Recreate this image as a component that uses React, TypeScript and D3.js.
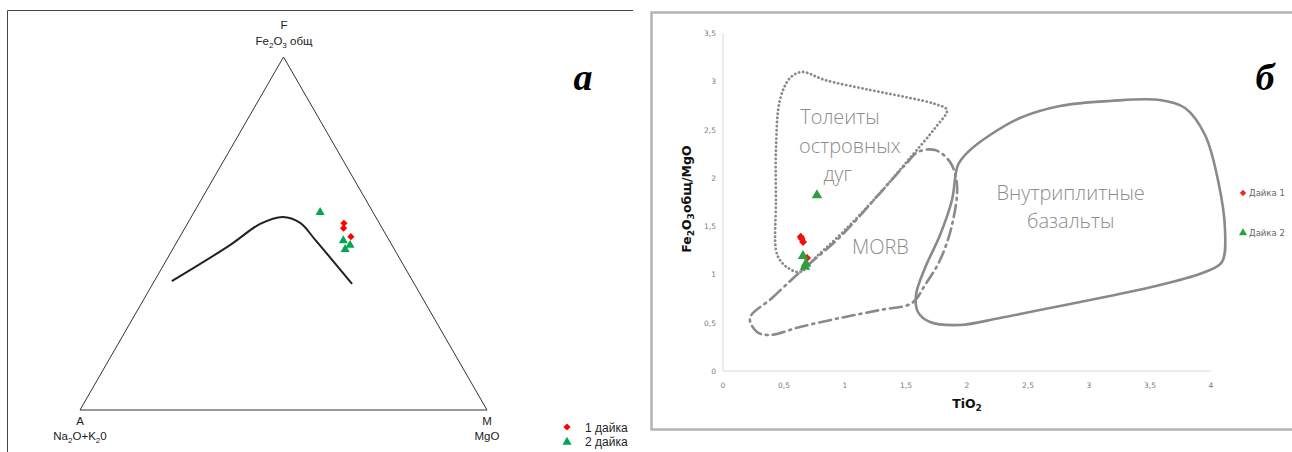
import React from "react";
import * as d3 from "d3";

// ---- panel a: ternary AFM (F top, A left, M right), values as fractions [F, M]
const dyke1AFM = [
  [0.529, 0.384],
  [0.515, 0.39],
  [0.491, 0.42],
];
const dyke2AFM = [
  [0.56, 0.31],
  [0.48, 0.407],
  [0.467, 0.43],
  [0.455, 0.424],
];
// boundary line tholeiitic / calc-alkaline
const boundaryAFM = [
  [0.365, 0.043],
  [0.467, 0.135],
  [0.527, 0.179],
  [0.547, 0.225],
  [0.53, 0.276],
  [0.482, 0.337],
  [0.357, 0.49],
];

// ---- panel б: TiO2 vs Fe2O3/MgO
const dyke1Ti = [
  [0.637, 1.39],
  [0.656, 1.335],
  [0.645, 1.37],
  [0.689, 1.17],
];
const dyke2Ti = [
  [0.77, 1.82],
  [0.656, 1.19],
  [0.672, 1.08],
  [0.68, 1.11],
];
const xTicks = [0, 0.5, 1, 1.5, 2, 2.5, 3, 3.5, 4];
const yTicks = [0, 0.5, 1, 1.5, 2, 2.5, 3, 3.5];

const iatField = [
  [0.434, 1.253], [0.434, 1.771], [0.434, 2.288], [0.467, 2.806], [0.549, 3.034],
  [0.648, 3.096], [0.836, 3.013], [1.205, 2.91], [1.533, 2.827], [1.738, 2.765],
  [1.836, 2.703], [1.738, 2.516], [1.533, 2.206], [1.287, 1.843], [1.0, 1.46],
  [0.754, 1.17], [0.631, 1.025], [0.533, 1.067], [0.467, 1.149],
];
const morbField = [
  [0.221, 0.549], [0.402, 0.756], [0.631, 1.025], [0.959, 1.388], [1.287, 1.843],
  [1.492, 2.133], [1.598, 2.268], [1.738, 2.288], [1.861, 2.164], [1.918, 1.926],
  [1.877, 1.512], [1.779, 1.149], [1.656, 0.891], [1.549, 0.704], [1.287, 0.632],
  [0.959, 0.549], [0.631, 0.456], [0.385, 0.373], [0.279, 0.404],
];
const wpbField = [
  [1.598, 0.611], [1.582, 0.787], [1.656, 1.067], [1.779, 1.408], [1.877, 1.771],
  [1.926, 2.133], [2.008, 2.268], [2.189, 2.444], [2.434, 2.62], [2.762, 2.744],
  [3.172, 2.796], [3.582, 2.806], [3.787, 2.723], [3.951, 2.444], [4.057, 1.978],
  [4.115, 1.46], [4.09, 1.129], [3.951, 1.025], [3.582, 0.891], [3.09, 0.756],
  [2.68, 0.652], [2.27, 0.549], [1.943, 0.476], [1.697, 0.507],
];

const RED = "#ff0000";
const GREEN = "#00a651";

export default function App() {
  // ternary geometry
  const tx = d3.scaleLinear().domain([0, 1]).range([80, 487]);
  const ty = d3.scaleLinear().domain([0, 1]).range([410, 57]);
  const proj = (f: number, m: number): [number, number] => [tx(m + f / 2), ty(f)];
  const triPath = d3.line()([proj(1, 0), proj(0, 0), proj(0, 1)]) + "Z";
  const boundaryPath = d3
    .line()
    .curve(d3.curveCatmullRom.alpha(0.5))(boundaryAFM.map((d) => proj(d[0], d[1])));

  // xy panel
  const x = d3.scaleLinear().domain([0, 4]).range([723, 1211]);
  const y = d3.scaleLinear().domain([0, 3.5]).range([371, 33]);
  const fieldLine = d3
    .line<number[]>()
    .x((d) => x(d[0]))
    .y((d) => y(d[1]))
    .curve(d3.curveCatmullRomClosed.alpha(0.5));
  const fmt = (v: number) => String(v).replace(".", ",");

  // square symbols turned 45° give an even diamond like Excel's marker
  const diamond = d3.symbol().type(d3.symbolSquare).size(26)();
  const triangle = d3.symbol().type(d3.symbolTriangle).size(36)();
  const diamondB = d3.symbol().type(d3.symbolSquare).size(32)();
  const triangleB = d3.symbol().type(d3.symbolTriangle).size(48)();

  const lab = { fontFamily: "Liberation Sans, Arial, sans-serif", fontSize: 11.5, fill: "#222" };
  const fieldText = { fontFamily: "Open Sans, Roboto, sans-serif", fontSize: 20, fill: "#8c8c8c", fontWeight: 300 };

  return (
    <svg width={1292} height={452} style={{ position: "absolute", left: 0, top: 0 }}>
      <rect width={1292} height={452} fill="#fff" />

      {/* ---------- panel a ---------- */}
      <path d="M7.5,452 V10.5 H633" fill="none" stroke="#444" strokeWidth={1} />
      <path d={triPath} fill="none" stroke="#333" strokeWidth={1} />
      <path d={boundaryPath || ""} fill="none" stroke="#222" strokeWidth={2} />

      <text x={284} y={29} textAnchor="middle" {...lab}>F</text>
      <text x={284} y={45} textAnchor="middle" {...lab}>
        Fe<tspan fontSize={8} dy={3}>2</tspan>
        <tspan dy={-3}>O</tspan>
        <tspan fontSize={8} dy={3}>3</tspan>
        <tspan dy={-3}> общ</tspan>
      </text>
      <text x={80} y={425} textAnchor="middle" {...lab}>A</text>
      <text x={80} y={440} textAnchor="middle" {...lab}>
        Na<tspan fontSize={8} dy={3}>2</tspan>
        <tspan dy={-3}>O+K</tspan>
        <tspan fontSize={8} dy={3}>2</tspan>
        <tspan dy={-3}>0</tspan>
      </text>
      <text x={487} y={425} textAnchor="middle" {...lab}>M</text>
      <text x={487} y={440} textAnchor="middle" {...lab}>MgO</text>

      {dyke1AFM.map((d, i) => {
        const [px, py] = proj(d[0], d[1]);
        return <path key={"r" + i} d={diamond || ""} transform={`translate(${px},${py}) rotate(45)`} fill={RED} />;
      })}
      {dyke2AFM.map((d, i) => {
        const [px, py] = proj(d[0], d[1]);
        return <path key={"g" + i} d={triangle || ""} transform={`translate(${px},${py})`} fill={GREEN} />;
      })}

      <text x={583} y={90} textAnchor="middle" fontFamily="Liberation Serif, serif" fontStyle="italic" fontWeight="bold" fontSize={38} fill="#000">а</text>

      <path d={diamond || ""} transform="translate(567,427) rotate(45)" fill={RED} />
      <text x={585} y={432} {...lab} fontSize={12}>1 дайка</text>
      <path d={triangle || ""} transform="translate(567,442)" fill={GREEN} />
      <text x={585} y={446} {...lab} fontSize={12}>2 дайка</text>

      {/* ---------- panel б ---------- */}
      <rect x={651.5} y={12.5} width={660} height={417} fill="none" stroke="#b3b3b3" strokeWidth={2.5} />

      <line x1={x(0)} x2={x(4)} y1={y(0)} y2={y(0)} stroke="#d9d9d9" />
      <line x1={x(0)} x2={x(0)} y1={y(0)} y2={y(3.5)} stroke="#d9d9d9" />
      {xTicks.map((t) => (
        <text key={"xt" + t} x={x(t)} y={388} textAnchor="middle" fontFamily="DejaVu Sans, sans-serif" fontSize={7.5} fill="#7a7a7a">{fmt(t)}</text>
      ))}
      {yTicks.map((t) => (
        <text key={"yt" + t} x={716} y={y(t) + 3} textAnchor="end" fontFamily="DejaVu Sans, sans-serif" fontSize={7.5} fill="#7a7a7a">{fmt(t)}</text>
      ))}

      <path d={fieldLine(iatField) || ""} fill="none" stroke="#8a8a8a" strokeWidth={2.8} strokeDasharray="0.1 4" strokeLinecap="round" />
      <path d={fieldLine(morbField) || ""} fill="none" stroke="#8a8a8a" strokeWidth={2.6} strokeDasharray="12 5 2 5" strokeLinecap="round" />
      <path d={fieldLine(wpbField) || ""} fill="none" stroke="#8a8a8a" strokeWidth={2.6} />

      <text x={x(0.959)} y={y(2.56)} textAnchor="middle" {...fieldText}>Толеиты</text>
      <text x={x(1.04)} y={y(2.26)} textAnchor="middle" {...fieldText}>островных</text>
      <text x={x(0.94)} y={y(1.97)} textAnchor="middle" {...fieldText}>дуг</text>
      <text x={x(1.29)} y={y(1.21)} textAnchor="middle" {...fieldText}>MORB</text>
      <text x={x(2.85)} y={y(1.77)} textAnchor="middle" {...fieldText}>Внутриплитные</text>
      <text x={x(2.85)} y={y(1.48)} textAnchor="middle" {...fieldText}>базальты</text>

      {dyke1Ti.map((d, i) => (
        <path key={"rb" + i} d={diamondB || ""} transform={`translate(${x(d[0])},${y(d[1])}) rotate(45)`} fill="#ee1111" />
      ))}
      {dyke2Ti.map((d, i) => (
        <path key={"gb" + i} d={triangleB || ""} transform={`translate(${x(d[0])},${y(d[1])})`} fill="#2e9e3e" />
      ))}

      <text transform={`translate(691,${y(1.78)}) rotate(-90)`} textAnchor="middle" fontFamily="DejaVu Sans, sans-serif" fontWeight="bold" fontSize={12.5} fill="#111">
        Fe<tspan fontSize={9} dy={3}>2</tspan>
        <tspan dy={-3}>O</tspan>
        <tspan fontSize={9} dy={3}>3</tspan>
        <tspan dy={-3}>общ/MgO</tspan>
      </text>
      <text x={x(2)} y={408} textAnchor="middle" fontFamily="DejaVu Sans, sans-serif" fontWeight="bold" fontSize={12.5} fill="#111">
        TiO<tspan fontSize={9} dy={3}>2</tspan>
      </text>

      <text x={1265} y={90} textAnchor="middle" fontFamily="Liberation Serif, serif" fontStyle="italic" fontWeight="bold" fontSize={38} fill="#000">б</text>

      <path d={d3.symbol().type(d3.symbolSquare).size(20)() || ""} transform="translate(1243,193) rotate(45)" fill="#e53020" />
      <text x={1249} y={196} fontFamily="DejaVu Sans, sans-serif" fontSize={8.5} fill="#666">Дайка 1</text>
      <path d={d3.symbol().type(d3.symbolTriangle).size(28)() || ""} transform="translate(1243,233)" fill="#2e9e3e" />
      <text x={1249} y={236} fontFamily="DejaVu Sans, sans-serif" fontSize={8.5} fill="#666">Дайка 2</text>
    </svg>
  );
}
